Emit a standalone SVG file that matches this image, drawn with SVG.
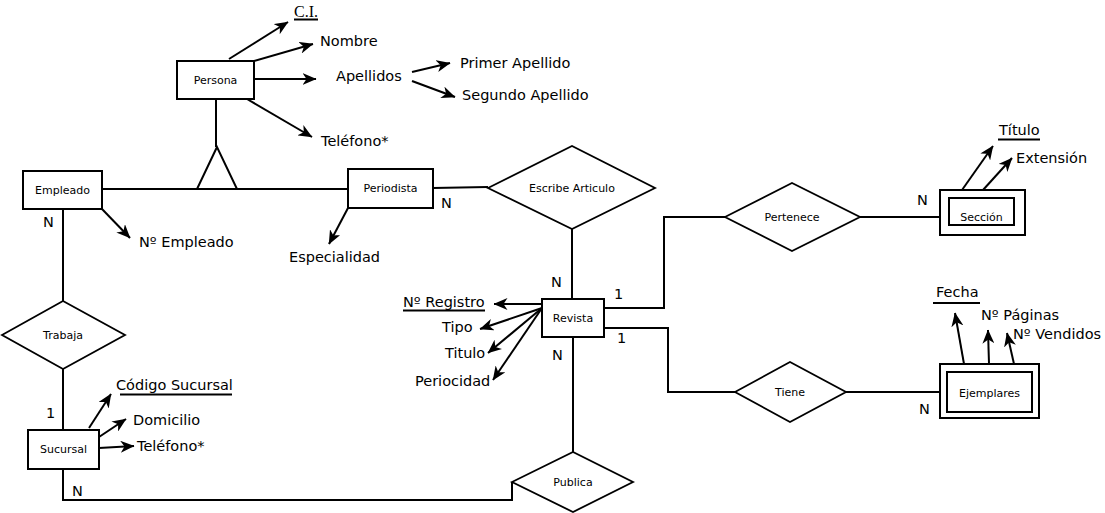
<svg xmlns="http://www.w3.org/2000/svg" width="1105" height="513" viewBox="0 0 1105 513">
<defs>
<marker id="arr" viewBox="0 0 14 12" markerWidth="14" markerHeight="12" refX="13.5" refY="6" orient="auto" markerUnits="userSpaceOnUse">
<path d="M0,0 L14,6 L0,12 L4,6 Z" fill="#000"/>
</marker>
</defs>
<style>
.box{fill:#fff;stroke:#000;stroke-width:2}
.dia{fill:#fff;stroke:#000;stroke-width:1.8}
.ln{fill:none;stroke:#000;stroke-width:2}
.ar{fill:none;stroke:#000;stroke-width:2;marker-end:url(#arr)}
.nl{font-family:"DejaVu Sans",Verdana,sans-serif;font-size:11px;fill:#000;text-anchor:middle}
.at{font-family:"DejaVu Sans",Verdana,sans-serif;font-size:14.5px;fill:#000}
.ci{font-family:"Liberation Serif","Times New Roman",serif;font-size:16px;fill:#000}
.ul{stroke:#000;stroke-width:2}
</style>
<rect width="1105" height="513" fill="#fff"/>
<g id="connectors">
<path class="ln" d="M216,99 V147"/>
<path class="ln" d="M102,189 H348"/>
<path class="ln" d="M433,188 L488,187"/>
<path class="ln" d="M63,209 V301"/>
<path class="ln" d="M63,369 V430"/>
<path class="ln" d="M63,469 V500 H512 V482"/>
<path class="ln" d="M572,229 V299"/>
<path class="ln" d="M573,337 V452"/>
<path class="ln" d="M604,308 H664 V217 H725"/>
<path class="ln" d="M860,217 H940"/>
<path class="ln" d="M604,328 H668 V392 H735"/>
<path class="ln" d="M846,392 H940"/>
<path class="ar" d="M229,59 L288,22"/>
<path class="ar" d="M254,61 L313,44"/>
<path class="ar" d="M254,79 L316,79"/>
<path class="ar" d="M412,72 L450,63"/>
<path class="ar" d="M412,81 L455,97"/>
<path class="ar" d="M247,99 L312,137"/>
<path class="ar" d="M102,209 L130,238"/>
<path class="ar" d="M348,208 L329,244"/>
<path class="ar" d="M89,428 L111,394"/>
<path class="ar" d="M99,437 L126,419"/>
<path class="ar" d="M99,448 L134,446"/>
<path class="ar" d="M542,304 L494,304"/>
<path class="ar" d="M542,308 L480,329"/>
<path class="ar" d="M542,308 L488,353"/>
<path class="ar" d="M542,308 L493,380"/>
<path class="ar" d="M962,190 L993,146"/>
<path class="ar" d="M983,190 L1012,158"/>
<path class="ar" d="M964,364 L955,313"/>
<path class="ar" d="M989,364 L988,330"/>
<path class="ar" d="M1014,364 L1007,333"/>
</g>
<g id="isa">
<path class="ln" d="M217,147 L197,189 H237 Z" fill="#fff"/>
</g>
<g id="persona">
<rect class="box" x="177" y="61" width="77" height="38"/>
<text class="nl" x="215.5" y="84">Persona</text>
</g>
<g id="empleado">
<rect class="box" x="23" y="171" width="79" height="38"/>
<text class="nl" x="62.5" y="194">Empleado</text>
</g>
<g id="periodista">
<rect class="box" x="348" y="169" width="85" height="39"/>
<text class="nl" x="390.5" y="192">Periodista</text>
</g>
<g id="escribe">
<path class="dia" d="M488,188 L572,146 L655,188 L572,229 Z"/>
<text class="nl" x="572" y="192">Escribe Articulo</text>
</g>
<g id="revista">
<rect class="box" x="542" y="299" width="62" height="38"/>
<text class="nl" x="573" y="322">Revista</text>
</g>
<g id="trabaja">
<path class="dia" d="M2,335 L63,301 L125,335 L63,369 Z"/>
<text class="nl" x="63" y="339">Trabaja</text>
</g>
<g id="sucursal">
<rect class="box" x="28" y="430" width="71" height="39"/>
<text class="nl" x="63.5" y="453">Sucursal</text>
</g>
<g id="publica">
<path class="dia" d="M512,482 L573,452 L633,482 L573,512 Z"/>
<text class="nl" x="573" y="486">Publica</text>
</g>
<g id="pertenece">
<path class="dia" d="M725,217 L792,183 L860,217 L792,251 Z"/>
<text class="nl" x="792" y="221">Pertenece</text>
</g>
<g id="tiene">
<path class="dia" d="M735,392 L790,362 L846,392 L790,422 Z"/>
<text class="nl" x="790" y="396">Tiene</text>
</g>
<g id="seccion">
<rect class="box" x="940" y="190" width="85" height="45"/>
<rect class="box" x="949" y="198" width="65" height="27"/>
<text class="nl" x="981.5" y="221">Sección</text>
</g>
<g id="ejemplares">
<rect class="box" x="940" y="364" width="99" height="54"/>
<rect class="box" x="947" y="372" width="85" height="40"/>
<text class="nl" x="989.5" y="397">Ejemplares</text>
</g>
<g id="labels">
<text class="ci" x="294" y="17">C.I.</text>
<line class="ul" x1="294" y1="19.5" x2="318" y2="19.5"/>
<text class="at" x="320" y="46">Nombre</text>
<text class="at" x="336" y="81">Apellidos</text>
<text class="at" x="460" y="68">Primer Apellido</text>
<text class="at" x="462" y="100">Segundo Apellido</text>
<text class="at" x="321" y="146">Teléfono*</text>
<text class="at" x="139" y="247">Nº Empleado</text>
<text class="at" x="289" y="262">Especialidad</text>
<text class="at" x="441" y="208">N</text>
<text class="at" x="43" y="227">N</text>
<text class="at" x="46" y="418">1</text>
<text class="at" x="72" y="496">N</text>
<text class="at" x="116" y="390">Código Sucursal</text>
<line class="ul" x1="120" y1="394.5" x2="232" y2="394.5"/>
<text class="at" x="133" y="425">Domicilio</text>
<text class="at" x="137" y="451">Teléfono*</text>
<text class="at" x="403" y="307">Nº Registro</text>
<line class="ul" x1="403" y1="310.5" x2="485" y2="310.5"/>
<text class="at" x="442" y="332">Tipo</text>
<text class="at" x="445" y="358">Titulo</text>
<text class="at" x="415" y="386">Periocidad</text>
<text class="at" x="551" y="287">N</text>
<text class="at" x="552" y="360">N</text>
<text class="at" x="614" y="299">1</text>
<text class="at" x="617" y="343">1</text>
<text class="at" x="917" y="205">N</text>
<text class="at" x="919" y="414">N</text>
<text class="at" x="999" y="135">Título</text>
<line class="ul" x1="998" y1="139.5" x2="1040" y2="139.5"/>
<text class="at" x="1016" y="163">Extensión</text>
<text class="at" x="936" y="297">Fecha</text>
<line class="ul" x1="933" y1="303" x2="980" y2="303"/>
<text class="at" x="981" y="320">Nº Páginas</text>
<text class="at" x="1013" y="339">Nº Vendidos</text>
</g>
</svg>
